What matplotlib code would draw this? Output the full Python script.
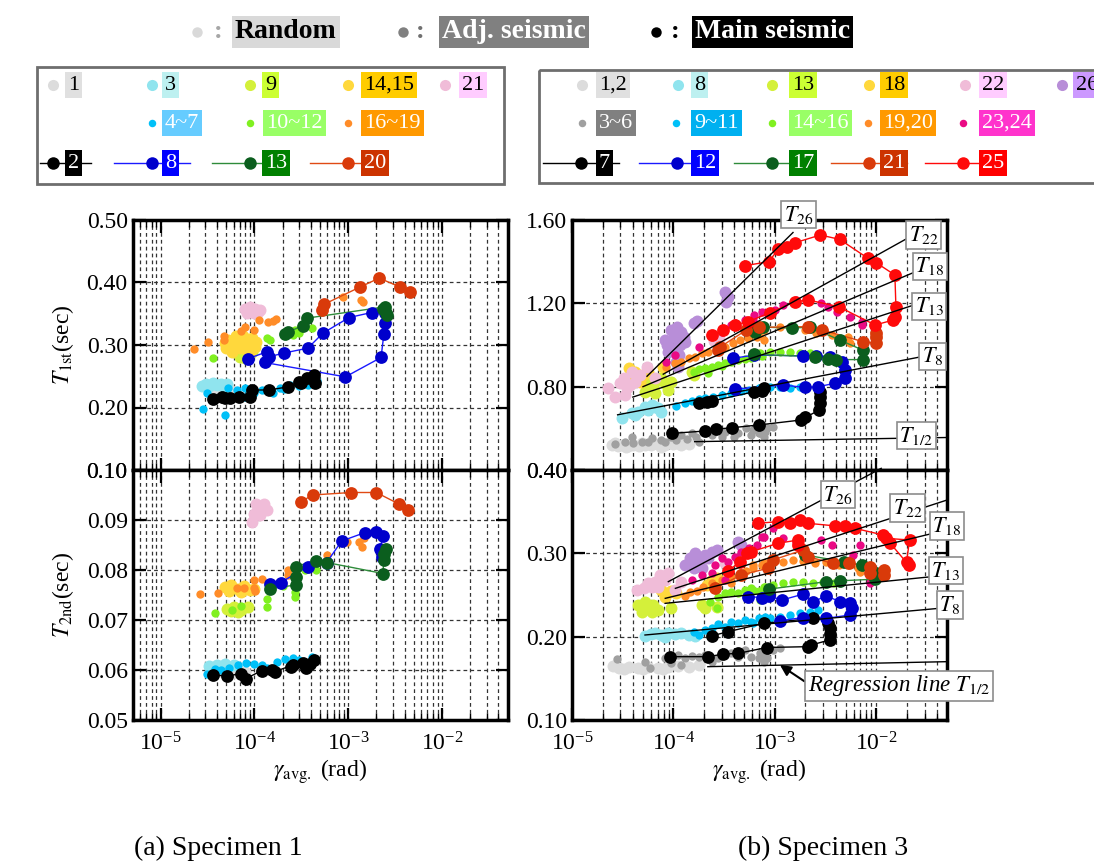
import numpy as np
import matplotlib as mpl
mpl.use('Agg')
import matplotlib.pyplot as plt
from matplotlib.patches import Rectangle
from matplotlib.ticker import LogLocator, FormatStrFormatter, NullFormatter

plt.rcParams['font.family'] = ['Liberation Serif', 'DejaVu Serif']
plt.rcParams['mathtext.fontset'] = 'stix'

# ---------------------------------------------------------------
# measured points: (log10 of gamma_avg [rad], period [sec])
# ---------------------------------------------------------------
# Specimen 1, 1st mode
A1_r1 = [(-4.47, 0.230), (-4.44, 0.226), (-4.40, 0.231), (-4.36, 0.227), (-4.33, 0.232),
         (-4.30, 0.228), (-4.27, 0.230), (-4.25, 0.226)]
A1_r3 = [(-4.56, 0.234), (-4.52, 0.238), (-4.48, 0.235), (-4.44, 0.239), (-4.40, 0.236),
         (-4.36, 0.238), (-4.32, 0.234), (-4.29, 0.237)]
A1_r9 = [(-4.21, 0.289), (-4.15, 0.281), (-4.10, 0.279), (-4.03, 0.289), (-4.14, 0.287), (-4.07, 0.284)]
A1_r1415 = [(-4.31, 0.303), (-4.28, 0.308), (-4.24, 0.297), (-4.21, 0.305), (-4.17, 0.311), (-4.14, 0.300),
            (-4.10, 0.308), (-4.07, 0.303), (-4.03, 0.311), (-3.98, 0.305), (-4.24, 0.289), (-4.15, 0.295),
            (-4.08, 0.292), (-4.05, 0.287), (-4.30, 0.295), (-3.99, 0.297), (-4.20, 0.314), (-4.12, 0.315)]
A1_r21 = [(-4.10, 0.358), (-4.05, 0.361), (-3.99, 0.358), (-3.94, 0.356), (-4.08, 0.351), (-4.01, 0.351),
          (-3.96, 0.353), (-4.06, 0.355)]
A1_a47 = [(-4.55, 0.198), (-4.31, 0.188), (-4.51, 0.223), (-4.35, 0.220), (-4.19, 0.228), (-4.10, 0.217),
          (-4.01, 0.223), (-3.92, 0.228), (-3.80, 0.223), (-3.73, 0.232), (-3.62, 0.236), (-3.53, 0.235),
          (-3.43, 0.236), (-3.33, 0.243), (-4.28, 0.231), (-4.10, 0.231), (-3.85, 0.226), (-3.68, 0.229)]
A1_a1012 = [(-4.44, 0.279), (-3.87, 0.312), (-3.83, 0.308), (-3.67, 0.321), (-3.57, 0.324), (-3.53, 0.319),
            (-3.39, 0.327), (-3.59, 0.316)]
A1_a1619 = [(-4.65, 0.294), (-4.50, 0.305), (-4.33, 0.315), (-4.33, 0.308), (-4.14, 0.322), (-4.10, 0.329),
            (-4.00, 0.324), (-3.95, 0.340), (-3.86, 0.336), (-3.80, 0.338), (-3.77, 0.342), (-3.06, 0.376),
            (-2.86, 0.372), (-2.84, 0.369)]
A1_m2 = [(-4.44, 0.214), (-4.35, 0.217), (-4.31, 0.215), (-4.26, 0.215), (-4.17, 0.217), (-4.05, 0.217),
         (-4.03, 0.228), (-3.85, 0.228), (-3.64, 0.233), (-3.53, 0.241), (-3.44, 0.248), (-3.37, 0.252),
         (-3.35, 0.239), (-3.50, 0.239)]
A1_m8 = [(-4.07, 0.278), (-3.87, 0.289), (-3.85, 0.281), (-3.69, 0.287), (-3.43, 0.295), (-3.27, 0.319),
         (-2.99, 0.344), (-2.75, 0.352), (-2.61, 0.351), (-2.61, 0.335), (-2.62, 0.317), (-2.65, 0.280),
         (-3.03, 0.249), (-3.89, 0.272)]
A1_m13 = [(-3.67, 0.317), (-3.64, 0.321), (-3.48, 0.331), (-3.44, 0.343), (-2.61, 0.361), (-2.63, 0.358),
          (-2.60, 0.352), (-2.59, 0.348)]
A1_m20 = [(-3.28, 0.356), (-3.26, 0.365), (-2.87, 0.393), (-2.67, 0.407), (-2.45, 0.393), (-2.34, 0.384)]

# Specimen 1, 2nd mode
A2_r1 = [(-4.40, 0.0597), (-4.33, 0.0599), (-4.24, 0.0595), (-4.16, 0.0599), (-4.10, 0.0597), (-4.29, 0.0592)]
A2_r3 = [(-4.49, 0.0608), (-4.40, 0.0610), (-4.31, 0.0612), (-4.22, 0.0610), (-4.44, 0.0601)]
A2_r9 = [(-4.29, 0.0723), (-4.22, 0.0727), (-4.14, 0.0720), (-4.07, 0.0727), (-4.18, 0.0717), (-4.25, 0.0719)]
A2_r1415 = [(-4.31, 0.0767), (-4.25, 0.0770), (-4.18, 0.0763), (-4.11, 0.0768), (-4.05, 0.0760),
            (-4.27, 0.0759), (-4.14, 0.0757), (-4.01, 0.0763)]
A2_r21 = [(-4.03, 0.0897), (-4.00, 0.0913), (-3.96, 0.0927), (-3.90, 0.0933), (-3.87, 0.0920),
          (-3.94, 0.0910), (-3.98, 0.0933), (-3.92, 0.0922)]
A2_a47 = [(-4.51, 0.0593), (-4.42, 0.0603), (-4.27, 0.0605), (-4.18, 0.0610), (-4.09, 0.0615), (-4.01, 0.0612),
          (-3.92, 0.0610), (-3.76, 0.0617), (-3.67, 0.0623), (-3.59, 0.0625), (-3.52, 0.0621), (-3.39, 0.0627),
          (-3.87, 0.0605), (-4.36, 0.0600)]
A2_a1012 = [(-4.42, 0.0715), (-4.24, 0.0721), (-4.14, 0.0729), (-3.87, 0.0743), (-3.87, 0.0727),
            (-3.70, 0.0768), (-3.57, 0.0747), (-3.57, 0.0757), (-3.46, 0.0800), (-3.34, 0.0800)]
A2_a1619 = [(-4.58, 0.0752), (-4.39, 0.0755), (-4.19, 0.0765), (-4.11, 0.0765), (-4.01, 0.0765),
            (-3.99, 0.0759), (-4.00, 0.0780), (-3.92, 0.0783), (-3.64, 0.0800), (-3.64, 0.0790),
            (-3.23, 0.0830), (-3.01, 0.0857), (-2.88, 0.0857), (-2.85, 0.0847), (-2.83, 0.0865)]
A2_m2 = [(-4.44, 0.0590), (-4.29, 0.0588), (-4.14, 0.0593), (-4.09, 0.0583), (-3.92, 0.0599), (-3.81, 0.0600),
         (-3.78, 0.0597), (-3.59, 0.0610), (-3.48, 0.0615), (-3.41, 0.0613), (-3.37, 0.0620), (-3.45, 0.0605),
         (-3.61, 0.0607)]
A2_m8 = [(-3.83, 0.0772), (-3.72, 0.0775), (-3.43, 0.0807), (-3.23, 0.0815), (-3.07, 0.0858), (-2.82, 0.0875),
         (-2.70, 0.0877), (-2.63, 0.0868), (-2.66, 0.0843), (-2.64, 0.0827)]
A2_m13 = [(-3.83, 0.0763), (-3.56, 0.0770), (-3.56, 0.0787), (-3.56, 0.0807), (-3.34, 0.0819), (-3.23, 0.0815),
          (-2.63, 0.0793), (-2.62, 0.0820), (-2.60, 0.0843), (-2.62, 0.0833)]
A2_m20 = [(-3.50, 0.0937), (-3.38, 0.0950), (-2.97, 0.0955), (-2.70, 0.0955), (-2.46, 0.0932), (-2.36, 0.0921)]

# Specimen 3, 1st mode
B1_r12 = [(-4.61, 0.520), (-4.55, 0.515), (-4.50, 0.522), (-4.45, 0.516), (-4.40, 0.521), (-4.34, 0.517),
          (-4.28, 0.522), (-4.22, 0.518), (-4.15, 0.523), (-4.08, 0.520), (-4.00, 0.524), (-3.92, 0.521),
          (-3.85, 0.525), (-4.58, 0.528), (-4.47, 0.510), (-4.31, 0.528), (-4.12, 0.512), (-3.96, 0.530)]
B1_r8 = [(-4.51, 0.651), (-4.41, 0.672), (-4.35, 0.680), (-4.28, 0.704), (-4.21, 0.712), (-4.15, 0.696),
         (-4.12, 0.680), (-4.38, 0.664), (-4.25, 0.688), (-4.18, 0.700)]
B1_r13 = [(-4.31, 0.824), (-4.25, 0.808), (-4.20, 0.792), (-4.15, 0.832), (-4.08, 0.816), (-4.02, 0.824),
          (-4.28, 0.776), (-4.12, 0.840), (-3.82, 0.872), (-3.80, 0.856), (-4.05, 0.784), (-4.22, 0.816),
          (-4.18, 0.768)]
B1_r18 = [(-4.44, 0.888), (-4.38, 0.872), (-4.30, 0.856), (-4.25, 0.872), (-4.41, 0.840), (-4.33, 0.824),
          (-4.46, 0.808), (-4.10, 0.896)]
B1_r22 = [(-4.64, 0.795), (-4.58, 0.752), (-4.49, 0.840), (-4.46, 0.792), (-4.41, 0.872), (-4.38, 0.824),
          (-4.26, 0.896), (-4.18, 0.840), (-4.48, 0.760), (-4.53, 0.816), (-4.43, 0.808), (-4.33, 0.856),
          (-3.60, 1.020), (-3.55, 1.030)]
B1_r26 = [(-4.08, 1.024), (-4.02, 1.072), (-3.95, 1.048), (-3.92, 1.064), (-4.05, 0.968), (-3.98, 0.984),
          (-3.94, 0.952), (-3.97, 0.920), (-3.89, 1.016), (-3.77, 1.115), (-3.80, 1.104), (-3.49, 1.256),
          (-3.46, 1.232), (-3.48, 1.205), (-3.99, 1.040), (-3.93, 1.000), (-4.06, 1.000), (-3.96, 1.088),
          (-3.90, 1.040), (-3.95, 0.895)]
B1_a36 = [(-4.58, 0.523), (-4.48, 0.532), (-4.41, 0.560), (-4.31, 0.536), (-4.21, 0.552), (-4.12, 0.544),
          (-4.02, 0.560), (-3.92, 0.568), (-3.82, 0.576), (-3.75, 0.536), (-3.69, 0.584), (-3.62, 0.568),
          (-3.56, 0.592), (-3.49, 0.584), (-3.43, 0.600), (-3.36, 0.576), (-3.28, 0.600), (-3.23, 0.568),
          (-3.16, 0.576), (-3.10, 0.584), (-3.21, 0.592), (-3.15, 0.576), (-3.08, 0.600), (-3.02, 0.604),
          (-3.11, 0.560), (-4.40, 0.528), (-4.25, 0.532), (-4.08, 0.536), (-3.97, 0.544), (-3.87, 0.548),
          (-3.78, 0.556), (-3.52, 0.560), (-3.40, 0.556)]
B1_a911 = [(-3.97, 0.708), (-3.89, 0.720), (-3.82, 0.731), (-3.75, 0.740), (-3.69, 0.747), (-3.61, 0.752),
           (-3.52, 0.760), (-3.43, 0.768), (-3.33, 0.779), (-3.25, 0.784), (-3.16, 0.792), (-3.10, 0.800),
           (-3.15, 0.792), (-3.05, 0.800), (-2.95, 0.796), (-2.85, 0.792), (-2.75, 0.800), (-3.70, 0.735),
           (-3.40, 0.780)]
B1_a1416 = [(-3.75, 0.885), (-3.69, 0.891), (-3.62, 0.896), (-3.56, 0.904), (-3.49, 0.912), (-3.43, 0.920),
            (-3.36, 0.928), (-3.29, 0.933), (-3.23, 0.939), (-3.13, 0.949), (-3.66, 0.864), (-3.15, 0.960),
            (-3.05, 0.968), (-2.95, 0.968), (-2.85, 0.968), (-2.75, 0.963), (-2.65, 0.960), (-2.59, 0.952),
            (-3.80, 0.870), (-3.52, 0.900)]
B1_a1920 = [(-4.07, 0.896), (-3.98, 0.912), (-3.92, 0.920), (-3.85, 0.936), (-3.79, 0.944), (-3.72, 0.960),
            (-3.66, 0.968), (-3.57, 0.984), (-3.49, 0.992), (-3.41, 1.008), (-3.34, 1.024), (-3.26, 1.032),
            (-3.16, 1.048), (-3.11, 1.024), (-3.18, 1.040), (-3.11, 1.072), (-2.95, 1.088), (-2.82, 1.088),
            (-2.70, 1.072), (-2.59, 1.056), (-2.44, 1.048), (-2.37, 1.024), (-2.26, 1.008), (-2.28, 1.040)]
B1_a2324 = [(-4.07, 0.920), (-3.98, 0.952), (-3.75, 0.992), (-3.62, 1.048), (-3.52, 1.064), (-3.43, 1.096),
            (-3.39, 1.104), (-3.29, 1.120), (-3.20, 1.144), (-3.13, 1.160), (-3.23, 1.096), (-3.21, 1.120),
            (-3.00, 1.168), (-2.92, 1.192), (-2.79, 1.216), (-2.54, 1.200), (-2.47, 1.184), (-2.39, 1.160),
            (-2.26, 1.136), (-2.14, 1.112), (-2.14, 1.096)]
B1_m7 = [(-4.01, 0.576), (-3.69, 0.587), (-3.58, 0.596), (-3.42, 0.603), (-3.16, 0.616), (-2.74, 0.640),
         (-2.70, 0.652), (-2.56, 0.688), (-2.55, 0.720), (-2.55, 0.752), (-2.55, 0.776), (None, None),
         (-3.75, 0.720), (-3.67, 0.728), (-3.62, 0.731), (-3.20, 0.776), (-3.13, 0.779), (-3.11, 0.792)]
B1_m12 = [(-3.39, 0.788), (-2.92, 0.808), (-2.70, 0.796), (-2.57, 0.800), (-2.41, 0.816), (-2.31, 0.840),
          (-2.31, 0.880), (-2.34, 0.920), (-2.46, 0.944), (-2.59, 0.947), (-2.72, 0.948), (-3.20, 0.952),
          (-3.41, 0.936)]
B1_m17 = [(-3.20, 0.955), (-2.60, 0.944), (-2.47, 0.935), (-2.40, 0.930), (-2.13, 0.930), (-2.13, 0.975),
          (-2.36, 1.024), (-2.65, 1.086), (-2.83, 1.081), (-3.12, 1.086), (-3.19, 1.062)]
B1_m21 = [(-3.56, 0.976), (-3.54, 0.990), (-3.28, 1.072), (-3.16, 1.085), (-2.67, 1.088), (-2.53, 1.072),
          (-2.13, 1.016), (-2.00, 1.008), (-2.00, 1.040), (-2.00, 1.056)]
B1_m25 = [(-3.62, 1.048), (-3.51, 1.070), (-3.39, 1.098), (-3.26, 1.112), (-3.05, 1.155), (-2.80, 1.208),
          (-2.67, 1.216), (-2.37, 1.184), (-2.01, 1.096), (-1.83, 1.120), (-1.815, 1.136), (-1.805, 1.184),
          (-1.815, 1.336), (-2.00, 1.395), (-2.08, 1.416), (-2.36, 1.507), (-2.55, 1.528), (-2.80, 1.491),
          (-2.88, 1.469), (-2.965, 1.459), (-3.06, 1.400), (-3.29, 1.381)]

# Specimen 3, 2nd mode
B2_r12 = [(-4.54, 0.163), (-4.44, 0.164), (-4.35, 0.163), (-4.25, 0.164), (-4.15, 0.163), (-4.05, 0.164),
          (-3.95, 0.165), (-3.85, 0.164), (-3.75, 0.166), (-4.60, 0.165), (-4.49, 0.161), (-4.30, 0.161),
          (-4.10, 0.161)]
B2_r8 = [(-4.28, 0.201), (-4.18, 0.204), (-4.12, 0.202), (-4.05, 0.204), (-3.98, 0.203), (-3.92, 0.204),
         (-3.85, 0.202), (-3.79, 0.201), (-4.08, 0.200), (-4.22, 0.203)]
B2_r13 = [(-4.35, 0.238), (-4.28, 0.242), (-4.25, 0.234), (-4.20, 0.238), (-4.15, 0.232), (-4.31, 0.230),
          (-4.21, 0.230), (-4.02, 0.234), (-3.72, 0.238), (-3.69, 0.234), (-3.57, 0.236)]
B2_r18 = [(-4.12, 0.256), (-4.07, 0.252), (-4.02, 0.255), (-3.97, 0.252), (-4.08, 0.248), (-3.62, 0.268),
          (-3.57, 0.270), (-3.67, 0.262)]
B2_r22 = [(-4.36, 0.256), (-4.25, 0.264), (-4.18, 0.266), (-4.13, 0.274), (-4.08, 0.268), (-4.05, 0.276),
          (-4.21, 0.260), (-3.98, 0.256), (-3.92, 0.266), (-3.49, 0.288), (-4.29, 0.258), (-4.15, 0.260)]
B2_r26 = [(-3.89, 0.286), (-3.84, 0.294), (-3.79, 0.300), (-3.75, 0.290), (-3.72, 0.282), (-3.80, 0.282),
          (-3.69, 0.298), (-3.62, 0.302), (-3.57, 0.304), (-3.36, 0.314), (-3.33, 0.310), (-3.66, 0.294),
          (-3.85, 0.288), (-3.77, 0.294)]
B2_a36 = [(-4.56, 0.173), (-4.28, 0.170), (-4.23, 0.163), (-4.08, 0.174), (-4.02, 0.176), (-3.95, 0.178),
          (-3.89, 0.174), (-3.82, 0.177), (-3.75, 0.176), (-3.69, 0.178), (-3.62, 0.170), (-3.56, 0.174),
          (-3.49, 0.178), (-3.43, 0.180), (-3.36, 0.176), (-3.29, 0.184), (-3.23, 0.176), (-3.16, 0.174),
          (-3.10, 0.178), (-4.02, 0.168), (-3.92, 0.166), (-3.15, 0.180), (-3.08, 0.174), (-3.02, 0.184),
          (-2.95, 0.186), (-3.11, 0.170)]
B2_a911 = [(-3.80, 0.206), (-3.75, 0.202), (-3.69, 0.208), (-3.62, 0.210), (-3.56, 0.215), (-3.49, 0.212),
           (-3.43, 0.218), (-3.36, 0.216), (-3.29, 0.220), (-3.23, 0.218), (-3.16, 0.222), (-3.10, 0.224),
           (-3.21, 0.216), (-3.11, 0.218), (-3.05, 0.222), (-2.95, 0.224), (-2.85, 0.226), (-2.75, 0.228),
           (-2.65, 0.230), (-2.57, 0.232), (-2.60, 0.222)]
B2_a1416 = [(-3.64, 0.242), (-3.56, 0.248), (-3.49, 0.252), (-3.43, 0.254), (-3.36, 0.252), (-3.29, 0.256),
            (-3.23, 0.258), (-3.16, 0.255), (-3.10, 0.260), (-3.57, 0.235), (-3.15, 0.244), (-3.21, 0.256),
            (-3.11, 0.260), (-3.02, 0.262), (-2.92, 0.264), (-2.82, 0.266), (-2.72, 0.266), (-2.62, 0.264),
            (-2.52, 0.266), (-2.42, 0.264)]
B2_a1920 = [(-3.89, 0.249), (-3.84, 0.254), (-3.77, 0.255), (-3.71, 0.260), (-3.62, 0.265), (-3.52, 0.268),
            (-3.43, 0.272), (-3.34, 0.276), (-3.28, 0.279), (-3.21, 0.282), (-3.13, 0.286), (-3.43, 0.264),
            (-3.21, 0.286), (-3.11, 0.288), (-3.02, 0.290), (-2.92, 0.290), (-2.82, 0.292), (-2.72, 0.291),
            (-2.60, 0.288), (-2.49, 0.290), (-2.37, 0.286), (-2.28, 0.286), (-2.18, 0.282), (-2.16, 0.278)]
B2_a2324 = [(-3.82, 0.268), (-3.72, 0.274), (-3.62, 0.276), (-3.59, 0.286), (-3.52, 0.294), (-3.46, 0.290),
            (-3.39, 0.296), (-3.33, 0.302), (-3.25, 0.306), (-3.18, 0.310), (-3.11, 0.320), (-3.49, 0.268),
            (-3.13, 0.320), (-3.02, 0.330), (-2.92, 0.318), (-2.79, 0.314), (-2.54, 0.316), (-2.44, 0.310),
            (-2.16, 0.310), (-2.26, 0.292), (-2.06, 0.270), (-2.06, 0.264), (-2.23, 0.298)]
B2_m7 = [(-4.03, 0.176), (-3.66, 0.176), (-3.51, 0.179), (-3.36, 0.180), (-3.08, 0.187), (-2.67, 0.188),
         (-2.64, 0.190), (-2.46, 0.196), (-2.46, 0.203), (-2.46, 0.210), (-2.47, 0.217), (None, None),
         (-3.62, 0.201), (-3.46, 0.206), (-3.11, 0.216), (-2.62, 0.222)]
B2_m12 = [(-3.26, 0.248), (-3.13, 0.247), (-3.06, 0.249), (-2.93, 0.244), (-2.72, 0.251), (-2.62, 0.242),
          (-2.49, 0.249), (-2.36, 0.242), (-2.26, 0.241), (-2.24, 0.234), (-2.26, 0.226), (-2.49, 0.222),
          (-2.72, 0.223), (-2.95, 0.219)]
B2_m17 = [(-3.06, 0.257), (-2.49, 0.266), (-2.36, 0.267), (-2.01, 0.269), (-2.00, 0.276), (-2.14, 0.286),
          (-2.32, 0.290), (-2.70, 0.298)]
B2_m21 = [(-3.59, 0.258), (-3.33, 0.274), (-3.07, 0.282), (-3.02, 0.292), (-2.72, 0.304), (-2.67, 0.296),
          (-2.43, 0.288), (-2.27, 0.288), (-2.06, 0.284), (-2.06, 0.276), (-1.92, 0.280), (-1.92, 0.274)]
B2_m25 = [(-3.46, 0.279), (-3.34, 0.290), (-3.27, 0.300), (-3.23, 0.302), (-2.97, 0.312), (-2.77, 0.316),
          (-2.77, 0.310), (None, None), (-3.17, 0.336), (-2.97, 0.338), (-2.85, 0.336), (-2.75, 0.340),
          (-2.67, 0.336), (-2.41, 0.333), (-2.31, 0.333), (-2.21, 0.330), (-1.93, 0.322), (-1.90, 0.318),
          (-1.67, 0.316), (-1.70, 0.290), (-1.68, 0.286), (-1.86, 0.312)]

# regression lines of specimen 3: end points (log10 gamma, T)
reg_names = ['26', '22', '18', '13', '8', '1/2']
reg1_start = [(-4.26, 0.850), (-4.10, 0.860), (-4.30, 0.800), (-4.40, 0.750), (-4.55, 0.665), (-3.79, 0.536)]
reg1_end = [(-2.82, 1.540), (-1.70, 1.510), (-1.62, 1.350), (-1.64, 1.190), (-1.55, 0.944), (-1.30, 0.556)]
reg2_start = [(-4.05, 0.266), (-3.98, 0.258), (-4.08, 0.246), (-4.08, 0.240), (-4.28, 0.202), (-3.66, 0.164)]
reg2_end = [(-1.95, 0.402), (-1.30, 0.364), (-1.44, 0.324), (-1.45, 0.272), (-1.38, 0.234), (-1.30, 0.170)]

# ---------------------------------------------------------------
# colours
# ---------------------------------------------------------------
GRAY_R = '#dcdcdc'
CYAN_R = '#90e4ee'
YGREEN = '#d4f03a'
GOLD = '#ffd83c'
PINK = '#f0bcd8'
LAVENDER = '#b88ed8'
GRAY_A = '#a0a0a0'
SKY = '#00c0f8'
LAWN = '#80f020'
ORANGE = '#ff8c28'
MAGENTA = '#ea0a84'
BLUE = '#0000cc'
DGREEN = '#0b5e1e'
LGREEN = '#2e8b3a'
RORANGE = '#d93a0a'
RED = '#ff0a0a'

panel_A1 = [(A1_r1, 'random', GRAY_R, None), (A1_r3, 'random', CYAN_R, None), (A1_r9, 'random', YGREEN, None),
            (A1_r1415, 'random', GOLD, None), (A1_r21, 'random', PINK, None),
            (A1_a47, 'adj', SKY, None), (A1_a1012, 'adj', LAWN, None), (A1_a1619, 'adj', ORANGE, None),
            (A1_m2, 'main', 'k', 'k'), (A1_m8, 'main', BLUE, '#1a1aff'), (A1_m13, 'main', DGREEN, LGREEN),
            (A1_m20, 'main', RORANGE, '#e04a14')]
panel_A2 = [(A2_r1, 'random', GRAY_R, None), (A2_r3, 'random', CYAN_R, None), (A2_r9, 'random', YGREEN, None),
            (A2_r1415, 'random', GOLD, None), (A2_r21, 'random', PINK, None),
            (A2_a47, 'adj', SKY, None), (A2_a1012, 'adj', LAWN, None), (A2_a1619, 'adj', ORANGE, None),
            (A2_m2, 'main', 'k', 'k'), (A2_m8, 'main', BLUE, '#1a1aff'), (A2_m13, 'main', DGREEN, LGREEN),
            (A2_m20, 'main', RORANGE, '#e04a14')]
panel_B1 = [(B1_r12, 'random', GRAY_R, None), (B1_r8, 'random', CYAN_R, None), (B1_r13, 'random', YGREEN, None),
            (B1_r18, 'random', GOLD, None), (B1_r22, 'random', PINK, None), (B1_r26, 'random', LAVENDER, None),
            (B1_a36, 'adj', GRAY_A, None), (B1_a911, 'adj', SKY, None), (B1_a1416, 'adj', LAWN, None),
            (B1_a1920, 'adj', ORANGE, None), (B1_a2324, 'adj', MAGENTA, None),
            (B1_m7, 'main', 'k', 'k'), (B1_m12, 'main', BLUE, '#1a1aff'), (B1_m17, 'main', DGREEN, LGREEN),
            (B1_m21, 'main', RORANGE, '#e04a14'), (B1_m25, 'main', RED, RED)]
panel_B2 = [(B2_r12, 'random', GRAY_R, None), (B2_r8, 'random', CYAN_R, None), (B2_r13, 'random', YGREEN, None),
            (B2_r18, 'random', GOLD, None), (B2_r22, 'random', PINK, None), (B2_r26, 'random', LAVENDER, None),
            (B2_a36, 'adj', GRAY_A, None), (B2_a911, 'adj', SKY, None), (B2_a1416, 'adj', LAWN, None),
            (B2_a1920, 'adj', ORANGE, None), (B2_a2324, 'adj', MAGENTA, None),
            (B2_m7, 'main', 'k', 'k'), (B2_m12, 'main', BLUE, '#1a1aff'), (B2_m17, 'main', DGREEN, LGREEN),
            (B2_m21, 'main', RORANGE, '#e04a14'), (B2_m25, 'main', RED, RED)]

MS = {'random': 8.6, 'adj': 6.0, 'main': 9.2}
LEG_MS = {'random': 8.0, 'adj': 5.4, 'main': 9.0}
W, H = 1094, 861

fig = plt.figure(figsize=(W / 100, H / 100), dpi=100)

# pixel-space layer for the legends and captions
lax = fig.add_axes([0, 0, 1, 1])
lax.set_xlim(0, W)
lax.set_ylim(H, 0)
lax.axis('off')


def px_axes(x0, y0, x1, y1):
    return fig.add_axes([x0 / W, 1 - y1 / H, (x1 - x0) / W, (y1 - y0) / H])


def draw(ax, series):
    for pts, kind, col, lcol in series:
        arr = np.array(pts, dtype=float)
        x = 10 ** arr[:, 0]
        y = arr[:, 1]
        if kind == 'main':
            ax.plot(x, y, '-', color=lcol, lw=1.0, zorder=4)
            ax.plot(x, y, 'o', ls='none', ms=MS[kind], color=col, mec='none', zorder=5)
        else:
            ax.plot(x, y, 'o', ls='none', ms=MS[kind], color=col, mec='none',
                    zorder=2 if kind == 'random' else 3)


def setup(ax, xlo, ylim, yticks, bottom):
    ax.set_xscale('log')
    ax.set_xlim(xlo, 5e-2)
    ax.set_ylim(*ylim)
    ax.xaxis.set_major_locator(LogLocator(base=10, numticks=12))
    ax.xaxis.set_minor_locator(LogLocator(base=10, subs=np.arange(2, 10), numticks=40))
    ax.xaxis.set_minor_formatter(NullFormatter())
    ax.set_yticks(yticks)
    ax.yaxis.set_major_formatter(FormatStrFormatter('%.2f'))
    ax.tick_params(which='both', direction='in', top=True, right=True, labelsize=17)
    ax.tick_params(which='major', length=9, width=1.6)
    ax.tick_params(which='minor', length=5, width=1.0)
    ax.tick_params(axis='x', which='major', pad=9)
    ax.grid(True, which='major', color='#333333', ls=(0, (3, 2.5)), lw=0.9)
    ax.grid(True, which='minor', axis='x', color='#333333', ls=(0, (3, 2.5)), lw=0.9)
    for s in ax.spines.values():
        s.set_linewidth(2.5)
    if not bottom:
        ax.tick_params(labelbottom=False)


axA1 = px_axes(132.5, 220, 507.5, 470)
axA2 = px_axes(132.5, 470, 507.5, 720)
axB1 = px_axes(572, 220, 947, 470)
axB2 = px_axes(572, 470, 947, 720)

setup(axA1, 5e-6, (0.10, 0.50), [0.1, 0.2, 0.3, 0.4, 0.5], False)
setup(axA2, 5e-6, (0.05, 0.10), [0.05, 0.06, 0.07, 0.08, 0.09, 0.10], True)
setup(axB1, 1e-5, (0.40, 1.60), [0.4, 0.8, 1.2, 1.6], False)
setup(axB2, 1e-5, (0.10, 0.40), [0.1, 0.2, 0.3, 0.4], True)

draw(axA1, panel_A1)
draw(axA2, panel_A2)
draw(axB1, panel_B1)
draw(axB2, panel_B2)

axA1.set_ylabel(r'$T_{\mathrm{1st}}$(sec)', fontsize=17)
axA2.set_ylabel(r'$T_{\mathrm{2nd}}$(sec)', fontsize=17)
axA1.yaxis.set_label_coords(-0.15, 0.5)
axA2.yaxis.set_label_coords(-0.15, 0.5)
for ax in (axA2, axB2):
    ax.set_xlabel(r'$\gamma_{\mathrm{avg.}}$ (rad)', fontsize=17)
    ax.xaxis.set_label_coords(0.5, -0.15)

# regression lines with their tags
tag_box = dict(boxstyle='square,pad=0.12', fc='white', ec='#8c8c8c', lw=1.2)
tags1 = {'26': (-2.766, 1.626), '22': (-1.533, 1.528), '18': (-1.469, 1.377),
         '13': (-1.479, 1.185), '8': (-1.445, 0.945), '1/2': (-1.603, 0.565)}
tags2 = {'26': (-2.377, 0.3706), '22': (-1.691, 0.3544), '18': (-1.302, 0.3328),
         '13': (-1.312, 0.2794), '8': (-1.272, 0.238)}
for ax, starts, ends, tags in ((axB1, reg1_start, reg1_end, tags1), (axB2, reg2_start, reg2_end, tags2)):
    for name, p0, p1 in zip(reg_names, starts, ends):
        ax.plot([10 ** p0[0], 10 ** p1[0]], [p0[1], p1[1]], color='k', lw=1.0, zorder=6, clip_on=False)
        if name in tags:
            lg, t = tags[name]
            ax.text(10 ** lg, t, r'$T_{\mathrm{%s}}$' % name, ha='center', va='center', fontsize=16,
                    bbox=tag_box, zorder=8, clip_on=False)

axB2.annotate(r'Regression line $T_{\mathrm{1/2}}$', xy=(10 ** -2.949, 0.166), xytext=(10 ** -2.675, 0.1408),
              ha='left', va='center', style='italic', fontsize=16.5, bbox=tag_box, zorder=8,
              annotation_clip=False,
              arrowprops=dict(arrowstyle='-|>', color='k', lw=1.5, mutation_scale=16,
                              shrinkA=0, shrinkB=0, relpos=(0.0, 0.6)))

# ---------------------------------------------------------------
# legends
# ---------------------------------------------------------------
top_items = [(197, 218, 231, 'Random', '#d9d9d9', '#d9d9d9', 'k', '#a6a6a6'),
             (403, 420, 438, 'Adj. seismic', '#808080', '#808080', 'white', '#707070'),
             (656, 675, 691, 'Main seismic', 'k', 'k', 'white', 'k')]
for xm, xc, xb, txt, mcol, bg, fg, ccol in top_items:
    lax.plot(xm, 32, 'o', ms=7.5, color=mcol, mec='none')
    lax.text(xc, 32, ':', ha='center', va='center', fontsize=19, fontweight='bold', color=ccol)
    lax.text(xb + 4, 32, txt, ha='left', va='center', fontsize=20, fontweight='bold', color=fg,
             bbox=dict(boxstyle='square,pad=0.12', fc=bg, ec='none'))

lax.add_patch(Rectangle((37, 67), 467, 117, fill=False, ec='#6e6e6e', lw=2))
lax.add_patch(Rectangle((539, 70), 600, 113, fill=False, ec='#6e6e6e', lw=2))

leg_entries = [
    (53, 66, 85, '1', 'random', GRAY_R, '#e0e0e0', 'k', None),
    (152, 163, 85, '3', 'random', CYAN_R, '#bdf0f0', 'k', None),
    (250, 263, 85, '9', 'random', YGREEN, '#ccff33', 'k', None),
    (348, 362, 85, '14,15', 'random', GOLD, '#ffcc00', 'k', None),
    (445, 460, 85, '21', 'random', PINK, '#ffccff', 'k', None),
    (152, 163, 123, '4~7', 'adj', SKY, '#66ccff', 'white', None),
    (250, 264, 123, '10~12', 'adj', LAWN, '#99ff66', 'white', None),
    (348, 362, 123, '16~19', 'adj', ORANGE, '#ff9900', 'white', None),
    (53, 66, 163, '2', 'main', 'k', 'k', 'white', 'k'),
    (152, 163, 163, '8', 'main', BLUE, '#0000ff', 'white', '#1a1aff'),
    (250, 263, 163, '13', 'main', DGREEN, '#008000', 'white', LGREEN),
    (348, 362, 163, '20', 'main', RORANGE, '#cc3300', 'white', '#e04a14'),
    (582, 597, 85, '1,2', 'random', GRAY_R, '#e0e0e0', 'k', None),
    (678, 692, 85, '8', 'random', CYAN_R, '#bdf0f0', 'k', None),
    (772, 790, 85, '13', 'random', YGREEN, '#ccff33', 'k', None),
    (869, 881, 85, '18', 'random', GOLD, '#ffcc00', 'k', None),
    (965, 980, 85, '22', 'random', PINK, '#ffccff', 'k', None),
    (1062, 1074, 85, '26', 'random', LAVENDER, '#cc99ff', 'k', None),
    (582, 597, 123, '3~6', 'adj', GRAY_A, '#808080', 'white', None),
    (676, 692, 123, '9~11', 'adj', SKY, '#00b0f0', 'white', None),
    (772, 790, 123, '14~16', 'adj', LAWN, '#99ff66', 'white', None),
    (868, 881, 123, '19,20', 'adj', ORANGE, '#ff9900', 'white', None),
    (963, 980, 123, '23,24', 'adj', MAGENTA, '#ff33cc', 'white', None),
    (581, 597, 163, '7', 'main', 'k', 'k', 'white', 'k'),
    (677, 692, 163, '12', 'main', BLUE, '#0000ff', 'white', '#1a1aff'),
    (772, 790, 163, '17', 'main', DGREEN, '#008000', 'white', LGREEN),
    (869, 881, 163, '21', 'main', RORANGE, '#cc3300', 'white', '#e04a14'),
    (963, 980, 163, '25', 'main', RED, '#ff0000', 'white', RED),
]
for xm, xl, y, txt, kind, mcol, bg, fg, lcol in leg_entries:
    if kind == 'main':
        lax.plot([max(xm - 38, 40), xm + 38], [y, y], color=lcol, lw=1.0)
    lax.plot(xm, y, 'o', ms=LEG_MS[kind], color=mcol, mec='none')
    lax.text(xl + 2, y, txt, ha='left', va='center', fontsize=16, color=fg, zorder=5,
             bbox=dict(boxstyle='square,pad=0.14', fc=bg, ec='none'))

lax.text(218, 848, '(a) Specimen 1', ha='center', va='center', fontsize=20)
lax.text(823, 848, '(b) Specimen 3', ha='center', va='center', fontsize=20)

fig.savefig('out.png', dpi=100)
